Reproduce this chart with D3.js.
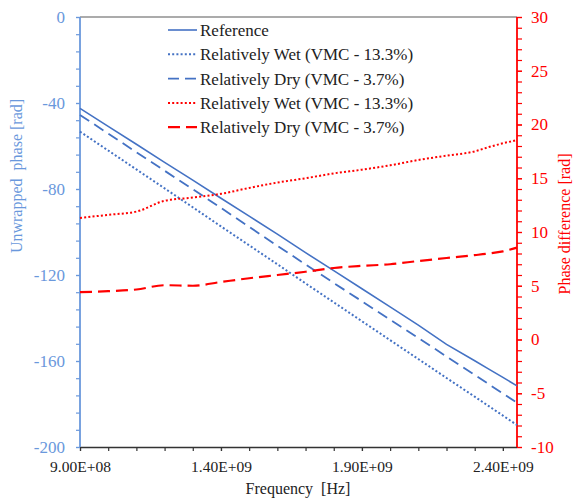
<!DOCTYPE html>
<html>
<head>
<meta charset="utf-8">
<script src="https://cdn.jsdelivr.net/npm/d3@7"></script>
<style>
    body { margin: 0; background: #fff; }
    svg { display: block; }
    svg text { font-family: "Liberation Serif", "Times New Roman", serif; }
</style>
</head>
<body>
<svg id="chart"></svg>
<script>
const WIDTH = 579;
const HEIGHT = 498;
const MARGIN = { top: 17, right: 62, bottom: 51, left: 80 };

const BLUE = "#4472c4";
const BLUE_AXIS = "#6a98dc";
const RED = "#ff0000";

// frequency samples [Hz]
const FREQ = [9.0e8, 1.0e9, 1.1e9, 1.2e9, 1.3e9, 1.4e9, 1.5e9, 1.6e9, 1.7e9,
              1.8e9, 1.9e9, 2.0e9, 2.1e9, 2.2e9, 2.3e9, 2.35e9, 2.4e9, 2.45e9];

// unwrapped phase [rad] (left axis)
const REFERENCE = [-42.5, -50.9, -59.2, -67.6, -75.9, -84.3, -92.6, -101.0, -109.6,
                   -118.0, -126.4, -134.8, -143.3, -152.3, -159.9, -163.8, -167.6, -171.6];
const WET_PHASE = [-53.3, -62.1, -70.9, -79.7, -88.5, -97.4, -106.2, -115.0, -123.9,
                   -132.7, -141.5, -150.3, -159.1, -167.9, -176.6, -181.0, -185.4, -189.8];
const DRY_PHASE = [-45.6, -54.2, -62.9, -71.5, -80.1, -88.8, -97.6, -106.4, -115.1,
                   -123.7, -132.2, -140.8, -149.3, -157.9, -166.5, -170.8, -175.1, -179.4];

// phase difference [rad] (right axis)
const WET_DIFF = [11.3, 11.6, 11.9, 12.9, 13.2, 13.55, 14.1, 14.6, 15.0,
                  15.45, 15.8, 16.2, 16.7, 17.1, 17.5, 17.9, 18.25, 18.55];
const DRY_DIFF = [4.4, 4.5, 4.65, 5.05, 5.0, 5.35, 5.7, 6.0, 6.3,
                  6.65, 6.85, 7.0, 7.3, 7.58, 7.85, 8.0, 8.2, 8.55];

const X_DOMAIN = [9.0e8, 2.45e9];
const X_TICKS = [9.0e8, 1.4e9, 1.9e9, 2.4e9];
const LEFT_DOMAIN = [-200, 0];
const RIGHT_DOMAIN = [-10, 30];

const SERIES = [
    { name: "Reference", values: REFERENCE, axis: "left", color: BLUE, dash: null, width: 1.6 },
    { name: "Relatively Wet (VMC - 13.3%)", values: WET_PHASE, axis: "left", color: BLUE, dash: "2,2.2", width: 2 },
    { name: "Relatively Dry (VMC - 3.7%)", values: DRY_PHASE, axis: "left", color: BLUE, dash: "11,6", width: 1.8 },
    { name: "Relatively Wet (VMC - 13.3%)", values: WET_DIFF, axis: "right", color: RED, dash: "2,2.2", width: 2 },
    { name: "Relatively Dry (VMC - 3.7%)", values: DRY_DIFF, axis: "right", color: RED, dash: "12,6", width: 2.2 }
];

const svg = d3.select("#chart")
    .attr("width", WIDTH)
    .attr("height", HEIGHT);

const x0 = MARGIN.left;
const x1 = WIDTH - MARGIN.right;
const y0 = MARGIN.top;
const y1 = HEIGHT - MARGIN.bottom;

const x = d3.scaleLinear().domain(X_DOMAIN).range([x0, x1]);
const yL = d3.scaleLinear().domain(LEFT_DOMAIN).range([y1, y0]);
const yR = d3.scaleLinear().domain(RIGHT_DOMAIN).range([y1, y0]);

function sci(v) {
    const e = Math.floor(Math.log10(v));
    const m = v / Math.pow(10, e);
    return m.toFixed(2) + "E+" + String(e).padStart(2, "0");
}

// plain hyphen minus, as in the source chart
const plain = d => String(d);

// top border
svg.append("line")
    .attr("x1", x0).attr("x2", x1)
    .attr("y1", y0).attr("y2", y0)
    .attr("stroke", "#595959").attr("stroke-width", 1.2);

// bottom axis
const minorX = d3.range(9.0e8, 2.45e9, 1e8);
svg.append("g")
    .attr("transform", `translate(0,${y1})`)
    .call(d3.axisBottom(x).tickValues(minorX).tickSize(4).tickFormat(""))
    .call(g => g.select(".domain").remove())
    .call(g => g.selectAll("line").attr("stroke", "#333").attr("stroke-width", 1.2));

svg.append("g")
    .attr("transform", `translate(0,${y1})`)
    .call(d3.axisBottom(x).tickValues(X_TICKS).tickSize(4).tickPadding(10).tickFormat(sci))
    .call(g => g.select(".domain").attr("d", `M${x0},0.5H${x1}`).attr("stroke", "#333").attr("stroke-width", 1.4))
    .call(g => g.selectAll("line").attr("stroke", "#333").attr("stroke-width", 1.2))
    .call(g => g.selectAll("text")
        .attr("font-size", 15.5)
        .attr("fill", "#222"));

// left axis
svg.append("g")
    .attr("transform", `translate(${x0},0)`)
    .call(d3.axisLeft(yL).tickValues(d3.range(-200, 1, 8)).tickSize(4).tickFormat(""))
    .call(g => g.select(".domain").remove())
    .call(g => g.selectAll("line").attr("stroke", BLUE_AXIS).attr("stroke-width", 1.2));

svg.append("g")
    .attr("transform", `translate(${x0},0)`)
    .call(d3.axisLeft(yL).tickValues(d3.range(-200, 1, 40)).tickSize(4).tickPadding(11).tickFormat(plain))
    .call(g => g.select(".domain").attr("d", `M0,${y0}V${y1}`).attr("stroke", BLUE_AXIS).attr("stroke-width", 1.8))
    .call(g => g.selectAll("line").attr("stroke", BLUE_AXIS).attr("stroke-width", 1.2))
    .call(g => g.selectAll("text")
        .attr("font-size", 17)
        .attr("fill", BLUE_AXIS));

// right axis
svg.append("g")
    .attr("transform", `translate(${x1},0)`)
    .call(d3.axisRight(yR).tickValues(d3.range(-10, 31, 1)).tickSize(5).tickFormat(""))
    .call(g => g.select(".domain").remove())
    .call(g => g.selectAll("line").attr("stroke", RED).attr("stroke-width", 1.2));

svg.append("g")
    .attr("transform", `translate(${x1},0)`)
    .call(d3.axisRight(yR).tickValues(d3.range(-10, 31, 5)).tickSize(5).tickPadding(9).tickFormat(plain))
    .call(g => g.select(".domain").attr("d", `M0,${y0}V${y1}`).attr("stroke", RED).attr("stroke-width", 1.8))
    .call(g => g.selectAll("line").attr("stroke", RED).attr("stroke-width", 1.2))
    .call(g => g.selectAll("text")
        .attr("font-size", 17)
        .attr("fill", RED));

// axis titles
svg.append("text")
    .attr("transform", `translate(22,${176}) rotate(-90)`)
    .attr("text-anchor", "middle")
    .attr("font-size", 16)
    .attr("fill", BLUE_AXIS)
    .style("white-space", "pre")
    .text("Unwrapped  phase [rad]");

svg.append("text")
    .attr("transform", `translate(570,${224}) rotate(-90)`)
    .attr("text-anchor", "middle")
    .attr("font-size", 16)
    .attr("fill", RED)
    .text("Phase difference [rad]");

svg.append("text")
    .attr("x", 298)
    .attr("y", 494)
    .attr("text-anchor", "middle")
    .attr("font-size", 16)
    .attr("fill", "#222")
    .style("white-space", "pre")
    .text("Frequency  [Hz]");

// series
SERIES.forEach(s => {
    const y = s.axis === "left" ? yL : yR;
    const line = d3.line()
        .x((d, i) => x(FREQ[i]))
        .y(d => y(d))
        .curve(s.axis === "left" ? d3.curveLinear : d3.curveMonotoneX);

    svg.append("path")
        .datum(s.values)
        .attr("fill", "none")
        .attr("stroke", s.color)
        .attr("stroke-width", s.width)
        .attr("stroke-dasharray", s.dash)
        .attr("d", line);
});

// legend
const legend = svg.append("g").attr("transform", "translate(168,30)");
SERIES.forEach((s, i) => {
    const row = legend.append("g").attr("transform", `translate(0,${i * 24.3})`);
    row.append("line")
        .attr("x1", 0).attr("x2", 29)
        .attr("stroke", s.color)
        .attr("stroke-width", s.width)
        .attr("stroke-dasharray", s.dash);
    row.append("text")
        .attr("x", 32)
        .attr("y", 6)
        .attr("font-size", 17)
        .attr("fill", "#222")
        .text(s.name);
});
</script>
</body>
</html>
